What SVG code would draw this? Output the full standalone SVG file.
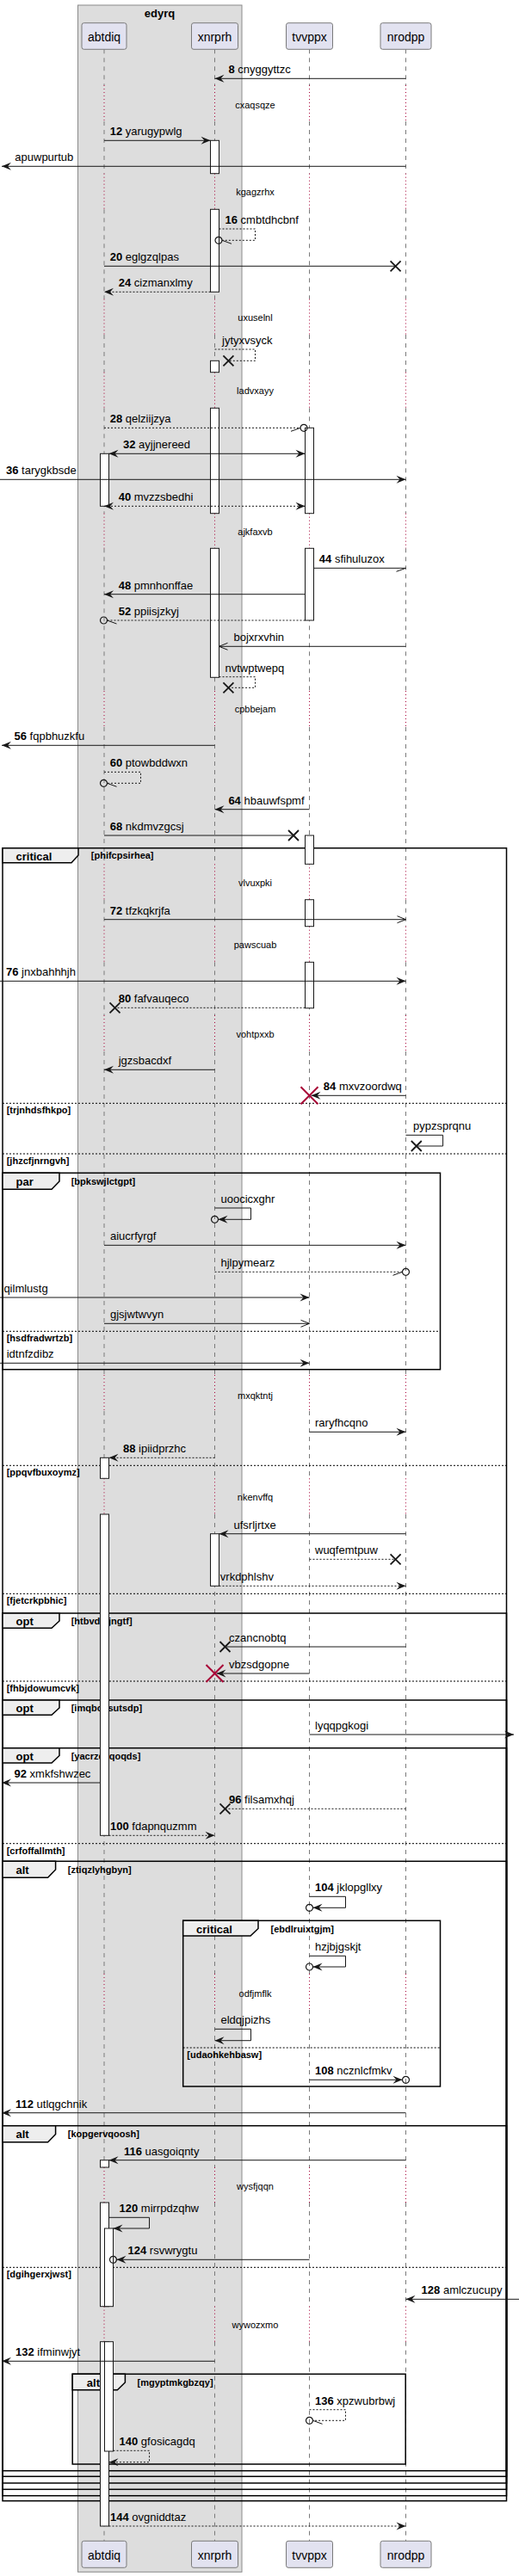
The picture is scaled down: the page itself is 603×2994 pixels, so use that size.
<svg xmlns="http://www.w3.org/2000/svg" width="603" height="2994" viewBox="0 0 603 2994">
<defs>
<style>
text{font-family:"Liberation Sans",Arial,sans-serif;fill:#000}
.m{font-size:13px}
.b{font-weight:bold}
.dl{font-size:11px;text-anchor:middle}
.g{font-size:11px;font-weight:bold}
.tl{font-size:13px;font-weight:bold}
.pl{font-size:14px;text-anchor:middle}
.ln{fill:none;stroke:#181818;stroke-width:1}
.ds{stroke-dasharray:2,2}
.act{fill:#fff;stroke:#181818;stroke-width:1}
.fr{fill:none;stroke:#000;stroke-width:1.5}
.tab{fill:#EEEEEE;stroke:#000;stroke-width:1.5}
.sep{stroke:#000;stroke-width:1;stroke-dasharray:2,2}
.pb{fill:#E2E2F0;stroke:#7a7a7a;stroke-width:1}
.lld{fill:none;stroke:#7a7a7a;stroke-width:1;stroke-dasharray:5,5}
.llr{fill:none;stroke:#A80036;stroke-width:1;stroke-dasharray:1,3}
.cx{stroke:#181818;stroke-width:1.8;fill:none}
.ci{fill:none;stroke:#181818;stroke-width:1.2}
.dx{stroke:#A80036;stroke-width:2;fill:none}
</style>
<marker id="af" viewBox="-12 -6 13 12" refX="0" refY="0" markerWidth="13" markerHeight="12" markerUnits="userSpaceOnUse" orient="auto-start-reverse"><path d="M0,0 L-11,-4.5 L-7,0 L-11,4.5 Z" fill="#181818" stroke="none"/></marker>
<marker id="ao" viewBox="-12 -6 13 12" refX="0" refY="0" markerWidth="13" markerHeight="12" markerUnits="userSpaceOnUse" orient="auto"><path d="M-10,-4 L0,0 L-10,4" fill="none" stroke="#181818" stroke-width="1" stroke-dasharray="none"/></marker>
<marker id="hr" viewBox="-12 -6 13 12" refX="0" refY="0" markerWidth="13" markerHeight="12" markerUnits="userSpaceOnUse" orient="auto"><path d="M-11,4 L0,0" fill="none" stroke="#181818" stroke-width="1" stroke-dasharray="none"/></marker>
<marker id="hl" viewBox="-12 -6 13 12" refX="0" refY="0" markerWidth="13" markerHeight="12" markerUnits="userSpaceOnUse" orient="auto"><path d="M-11,-4 L0,0" fill="none" stroke="#181818" stroke-width="1" stroke-dasharray="none"/></marker>
<path id="lldp" d="M0,57.3V99M0,141V201.7M0,243.3V347.5M0,389V432.7M0,474.3V596.7M0,637.3V803M0,845V1004.3M0,1045.7V1076.7M0,1118.3V1180M0,1222V1598M0,1640V1718.3M0,1760V2294M0,2336V2519M0,2560V2680.7M0,2721.7V2953"/>
<path id="llrp" d="M0,99V141M0,201.7V243.3M0,347.5V389M0,432.7V474.3M0,596.7V637.3M0,803V845M0,1004.3V1045.7M0,1076.7V1118.3M0,1180V1222M0,1598V1640M0,1718.3V1760M0,2294V2336M0,2519V2560M0,2680.7V2721.7"/>
<path id="xx" d="M-6,-6L6,6M-6,6L6,-6"/>
<path id="dxx" d="M-10,-10L10,10M-10,10L10,-10"/>
<circle id="oo" r="4"/>
</defs>
<rect width="603" height="2994" fill="#fff"/>

<g id="edyrq">
<rect x="90.5" y="6" width="190.5" height="2983.3" fill="#DDDDDD" stroke="#8a8a8a" stroke-width="1"/>
<text x="185.5" y="19.5" class="tl" text-anchor="middle">edyrq</text>
</g>

<g id="lifelines">
<use href="#lldp" class="lld" x="121"/><use href="#llrp" class="llr" x="121"/>
<use href="#lldp" class="lld" x="249.5"/><use href="#llrp" class="llr" x="249.5"/>
<use href="#lldp" class="lld" x="359.5"/><use href="#llrp" class="llr" x="359.5"/>
<use href="#lldp" class="lld" x="471.5"/><use href="#llrp" class="llr" x="471.5"/>
</g>

<g id="delays">
<text class="dl" x="296.5" y="125.5">cxaqsqze</text>
<text class="dl" x="296.5" y="227">kgagzrhx</text>
<text class="dl" x="296.5" y="373">uxuselnl</text>
<text class="dl" x="296.5" y="458">ladvxayy</text>
<text class="dl" x="296.5" y="622">ajkfaxvb</text>
<text class="dl" x="296.5" y="828">cpbbejam</text>
<text class="dl" x="296.5" y="1030">vlvuxpki</text>
<text class="dl" x="296.5" y="1102">pawscuab</text>
<text class="dl" x="296.5" y="1205.5">vohtpxxb</text>
<text class="dl" x="296.5" y="1625.5">mxqktntj</text>
<text class="dl" x="296.5" y="1744">nkenvffq</text>
<text class="dl" x="296.5" y="2320.5">odfjmflk</text>
<text class="dl" x="296.5" y="2544.5">wysfjqqn</text>
<text class="dl" x="296.5" y="2706">wywozxmo</text>
</g>

<g id="frames">
<g id="f-critical-1">
<rect class="fr" x="3" y="985.7" width="585.5" height="1921"/>
<polygon class="tab" points="3,985.7 91,985.7 91,994 83,1002.7 3,1002.7"/>
<text class="tl" x="18.5" y="999.5">critical</text>
<text class="g" x="105.8" y="998">[phifcpsirhea]</text>
<line class="sep" x1="3" y1="1282.3" x2="588.5" y2="1282.3"/>
<text class="g" x="7.7" y="1294.3">[trjnhdsfhkpo]</text>
<line class="sep" x1="3" y1="1341" x2="588.5" y2="1341"/>
<text class="g" x="7.7" y="1353">[jhzcfjnrngvh]</text>
<line class="sep" x1="3" y1="1703.3" x2="588.5" y2="1703.3"/>
<text class="g" x="7.7" y="1715.3">[ppqvfbuxoymz]</text>
<line class="sep" x1="3" y1="1852.3" x2="588.5" y2="1852.3"/>
<text class="g" x="7.7" y="1864.3">[fjetcrkpbhic]</text>
</g>
<g id="f-par">
<rect class="fr" x="3" y="1363.3" width="508.5" height="228.4"/>
<polygon class="tab" points="3,1363.3 69,1363.3 69,1373 60,1382.3 3,1382.3"/>
<text class="tl" x="18.5" y="1377.5">par</text>
<text class="g" x="82.7" y="1376.5">[bpkswjlctgpt]</text>
<line class="sep" x1="3" y1="1547.3" x2="511.5" y2="1547.3"/>
<text class="g" x="7.7" y="1559.3">[hsdfradwrtzb]</text>
</g>
<g id="f-opt-1">
<rect class="fr" x="3" y="1875" width="585.5" height="1025.7"/>
<polygon class="tab" points="3,1875 69,1875 69,1884 60,1892.3 3,1892.3"/>
<text class="tl" x="18.5" y="1889">opt</text>
<text class="g" x="82.7" y="1887.5">[htbvdlbjngtf]</text>
<line class="sep" x1="3" y1="1954" x2="588.5" y2="1954"/>
<text class="g" x="7.7" y="1966">[fhbjdowumcvk]</text>
</g>
<g id="f-opt-2">
<rect class="fr" x="3" y="1976" width="585.5" height="917.3"/>
<polygon class="tab" points="3,1976 69,1976 69,1985 60,1993.3 3,1993.3"/>
<text class="tl" x="18.5" y="1990">opt</text>
<text class="g" x="82.7" y="1988.5">[imqbovsutsdp]</text>
</g>
<g id="f-opt-3">
<rect class="fr" x="3" y="2031.7" width="585.5" height="854.3"/>
<polygon class="tab" points="3,2031.7 69,2031.7 69,2040.5 60,2049 3,2049"/>
<text class="tl" x="18.5" y="2045.5">opt</text>
<text class="g" x="82.7" y="2044.5">[yacrzdzqoqds]</text>
<line class="sep" x1="3" y1="2142.7" x2="588.5" y2="2142.7"/>
<text class="g" x="7.7" y="2154.7">[crfoffallmth]</text>
</g>
<g id="f-alt-1">
<rect class="fr" x="3" y="2163.3" width="585.5" height="715"/>
<polygon class="tab" points="3,2163.3 64.6,2163.3 64.6,2173 55.6,2182.3 3,2182.3"/>
<text class="tl" x="18.5" y="2177.5">alt</text>
<text class="g" x="78.8" y="2176.5">[ztiqzlyhgbyn]</text>
</g>
<g id="f-critical-2">
<rect class="fr" x="212.7" y="2232.3" width="298.8" height="192.7"/>
<polygon class="tab" points="212.7,2232.3 300,2232.3 300,2241.5 291,2250 212.7,2250"/>
<text class="tl" x="228" y="2246.5">critical</text>
<text class="g" x="314.6" y="2245.5">[ebdlruixtgjm]</text>
<line class="sep" x1="212.7" y1="2380" x2="511.5" y2="2380"/>
<text class="g" x="217.3" y="2392">[udaohkehbasw]</text>
</g>
<g id="f-alt-2">
<rect class="fr" x="3" y="2470.7" width="585.5" height="401"/>
<polygon class="tab" points="3,2470.7 64.6,2470.7 64.6,2480.5 55.6,2489.7 3,2489.7"/>
<text class="tl" x="18.5" y="2485">alt</text>
<text class="g" x="78.8" y="2483.5">[kopgervqoosh]</text>
<line class="sep" x1="3" y1="2635.3" x2="588.5" y2="2635.3"/>
<text class="g" x="7.7" y="2647.3">[dgihgerxjwst]</text>
</g>
<g id="f-alt-3">
<rect class="fr" x="84.2" y="2759.3" width="387" height="104.7"/>
<polygon class="tab" points="84.2,2759.3 145.4,2759.3 145.4,2769 136.4,2777.7 84.2,2777.7"/>
<text class="tl" x="100.8" y="2773.5">alt</text>
<text class="g" x="159.6" y="2772.5">[mgyptmkgbzqy]</text>
</g>
</g>

<g id="activations">
<rect class="act" x="116.5" y="527.3" width="10" height="61"/>
<rect class="act" x="116.5" y="1694.3" width="10" height="24"/>
<rect class="act" x="116.5" y="1760" width="10" height="373.3"/>
<rect class="act" x="116.5" y="2510.7" width="10" height="8.3"/>
<rect class="act" x="116.5" y="2560" width="10" height="120.7"/>
<rect class="act" x="116.5" y="2721.7" width="10" height="214.3"/>
<rect class="act" x="121.5" y="2590" width="10" height="90.7"/>
<rect class="act" x="121.5" y="2721.7" width="10" height="127.3"/>
<rect class="act" x="244.5" y="163.3" width="10" height="38.4"/>
<rect class="act" x="244.5" y="243.3" width="10" height="96"/>
<rect class="act" x="244.5" y="419.3" width="10" height="13.4"/>
<rect class="act" x="244.5" y="474.3" width="10" height="122.4"/>
<rect class="act" x="244.5" y="637.3" width="10" height="150"/>
<rect class="act" x="244.5" y="1782.7" width="10" height="60.6"/>
<rect class="act" x="354.5" y="497.3" width="10" height="99.4"/>
<rect class="act" x="354.5" y="637.3" width="10" height="83.7"/>
<rect class="act" x="354.5" y="971" width="10" height="33.3"/>
<rect class="act" x="354.5" y="1045.7" width="10" height="31"/>
<rect class="act" x="354.5" y="1118.3" width="10" height="53.4"/>
</g>

<g id="connectors">
<path class="ln" d="M471.5,91.3H249.5" marker-end="url(#af)"/>
<path class="ln" d="M121,163.3H244.5" marker-end="url(#af)"/>
<path class="ln" d="M471.5,193.3H2" marker-end="url(#af)"/>
<path class="ln ds" d="M254.5,266H296.5V279.3H258" marker-end="url(#hl)"/>
<use href="#oo" class="ci" x="254" y="279.3"/>
<path class="ln" d="M121,309.3H459.6"/>
<use href="#xx" class="cx" x="459.6" y="309.3"/>
<path class="ln ds" d="M244.5,339.3H121" marker-end="url(#af)"/>
<path class="ln ds" d="M249.5,406H296.5V419.3H265.4"/>
<use href="#xx" class="cx" x="265.4" y="419.3"/>
<path class="ln ds" d="M121,497.3H349" marker-end="url(#hr)"/>
<use href="#oo" class="ci" x="353" y="497.3"/>
<path class="ln" d="M126.5,527.3H354.5" marker-start="url(#af)" marker-end="url(#af)"/>
<path class="ln" d="M0,557.3H471.5" marker-end="url(#af)"/>
<path class="ln ds" d="M121,588.3H354.5" marker-start="url(#af)" marker-end="url(#af)"/>
<path class="ln" d="M364.5,660.3H471.5" marker-end="url(#hr)"/>
<path class="ln" d="M354.5,690.7H121" marker-end="url(#af)"/>
<path class="ln ds" d="M354.5,721H124.5" marker-end="url(#hl)"/>
<use href="#oo" class="ci" x="120.5" y="721"/>
<path class="ln" d="M471.5,751.3H254.5" marker-end="url(#ao)"/>
<path class="ln ds" d="M254.5,786.7H296.5V799.3H265.4"/>
<use href="#xx" class="cx" x="265.4" y="799.3"/>
<path class="ln" d="M249.5,866.3H2" marker-end="url(#af)"/>
<path class="ln ds" d="M121,897.3H163.5V910.3H124.5" marker-end="url(#hl)"/>
<use href="#oo" class="ci" x="120.5" y="910.3"/>
<path class="ln" d="M359.5,940.7H249.5" marker-end="url(#af)"/>
<path class="ln" d="M121,971H341"/>
<use href="#xx" class="cx" x="341" y="971"/>
<path class="ln" d="M121,1068.7H471.5" marker-end="url(#ao)"/>
<path class="ln" d="M0,1140.3H471.5" marker-end="url(#af)"/>
<path class="ln ds" d="M354.5,1171.3H133.5"/>
<use href="#xx" class="cx" x="133.5" y="1171.3"/>
<path class="ln" d="M249.5,1243.3H121" marker-end="url(#af)"/>
<path class="ln" d="M471.5,1273.3H361.5" marker-end="url(#af)"/>
<use href="#dxx" class="dx" x="359.5" y="1273.3"/>
<path class="ln" d="M471.5,1319.3H514.6V1332H483.8"/>
<use href="#xx" class="cx" x="483.8" y="1332"/>
<path class="ln" d="M249.5,1404H291.5V1417.3H253.5" marker-end="url(#af)"/>
<use href="#oo" class="ci" x="249.5" y="1417.3"/>
<path class="ln" d="M121,1447.3H471.5" marker-end="url(#af)"/>
<path class="ln ds" d="M249.5,1478.3H467.5" marker-end="url(#hr)"/>
<use href="#oo" class="ci" x="471.5" y="1478.3"/>
<path class="ln" d="M0,1508H359.5" marker-end="url(#af)"/>
<path class="ln" d="M121,1538.3H359.5" marker-end="url(#ao)"/>
<path class="ln" d="M0,1584.3H359.5" marker-end="url(#af)"/>
<path class="ln" d="M359.5,1664.3H471.5" marker-end="url(#af)"/>
<path class="ln ds" d="M249.5,1694.3H126.5" marker-end="url(#af)"/>
<path class="ln" d="M471.5,1782.7H254.5" marker-end="url(#af)"/>
<path class="ln ds" d="M359.5,1812.3H459.6"/>
<use href="#xx" class="cx" x="459.6" y="1812.3"/>
<path class="ln ds" d="M254.5,1843.3H471.5" marker-end="url(#af)"/>
<path class="ln" d="M471.5,1914H261.5"/>
<use href="#xx" class="cx" x="261.5" y="1914"/>
<path class="ln" d="M359.5,1945H251.5" marker-end="url(#af)"/>
<use href="#dxx" class="dx" x="249.5" y="1945"/>
<path class="ln" d="M359.5,2016H597" marker-end="url(#af)"/>
<path class="ln" d="M116.5,2072H2" marker-end="url(#af)"/>
<path class="ln ds" d="M471.5,2102.3H261.5"/>
<use href="#xx" class="cx" x="261.5" y="2102.3"/>
<path class="ln ds" d="M126.5,2133.3H249.5" marker-end="url(#af)"/>
<path class="ln" d="M359.5,2204.3H401.5V2217.3H363.5" marker-end="url(#af)"/>
<use href="#oo" class="ci" x="359.5" y="2217.3"/>
<path class="ln" d="M359.5,2273.3H401.5V2286H363.5" marker-end="url(#af)"/>
<use href="#oo" class="ci" x="359.5" y="2286"/>
<path class="ln" d="M249.5,2358.3H291.5V2371.7H249.5" marker-end="url(#af)"/>
<path class="ln" d="M359.5,2417.3H467.5" marker-end="url(#af)"/>
<use href="#oo" class="ci" x="471.5" y="2417.3"/>
<path class="ln" d="M471.5,2455.7H2" marker-end="url(#af)"/>
<path class="ln" d="M471.5,2510.7H126.5" marker-end="url(#af)"/>
<path class="ln" d="M126.5,2577.3H173.5V2590H131.5" marker-end="url(#af)"/>
<path class="ln" d="M359.5,2626.3H135.5" marker-end="url(#af)"/>
<use href="#oo" class="ci" x="131.5" y="2626.3"/>
<path class="ln" d="M603,2672.3H471.5" marker-end="url(#af)"/>
<path class="ln" d="M249.5,2744.3H2" marker-end="url(#af)"/>
<path class="ln ds" d="M359.5,2800.7H401.5V2813.3H363.5" marker-end="url(#hl)"/>
<use href="#oo" class="ci" x="359.5" y="2813.3"/>
<path class="ln ds" d="M131.5,2848.3H173.5V2861.7H126.5" marker-end="url(#af)"/>
<path class="ln ds" d="M126.5,2936H471.5" marker-end="url(#af)"/>
</g>

<g id="message-labels" class="m">
<text class="m" x="265.4" y="85.3"><tspan class="b">8</tspan> cnyggyttzc</text>
<text class="m" x="127.7" y="157.3"><tspan class="b">12</tspan> yarugypwlg</text>
<text class="m" x="17.3" y="187.3">apuwpurtub</text>
<text class="m" x="261.5" y="260"><tspan class="b">16</tspan> cmbtdhcbnf</text>
<text class="m" x="127.7" y="303.3"><tspan class="b">20</tspan> eglgzqlpas</text>
<text class="m" x="137.7" y="333.3"><tspan class="b">24</tspan> cizmanxlmy</text>
<text class="m" x="258" y="400">jytyxvsyck</text>
<text class="m" x="127.7" y="491.3"><tspan class="b">28</tspan> qelziijzya</text>
<text class="m" x="143" y="521.3"><tspan class="b">32</tspan> ayjjnereed</text>
<text class="m" x="7" y="551.3"><tspan class="b">36</tspan> tarygkbsde</text>
<text class="m" x="137.7" y="582.3"><tspan class="b">40</tspan> mvzzsbedhi</text>
<text class="m" x="370.8" y="654.3"><tspan class="b">44</tspan> sfihuluzox</text>
<text class="m" x="137.7" y="684.7"><tspan class="b">48</tspan> pmnhonffae</text>
<text class="m" x="137.7" y="715"><tspan class="b">52</tspan> ppiisjzkyj</text>
<text class="m" x="271.5" y="745.3">bojxrxvhin</text>
<text class="m" x="261.5" y="780.7">nvtwptwepq</text>
<text class="m" x="16.5" y="860.3"><tspan class="b">56</tspan> fqpbhuzkfu</text>
<text class="m" x="127.7" y="891.3"><tspan class="b">60</tspan> ptowbddwxn</text>
<text class="m" x="265.4" y="934.7"><tspan class="b">64</tspan> hbauwfspmf</text>
<text class="m" x="127.7" y="965"><tspan class="b">68</tspan> nkdmvzgcsj</text>
<text class="m" x="127.7" y="1062.7"><tspan class="b">72</tspan> tfzkqkrjfa</text>
<text class="m" x="7" y="1134.3"><tspan class="b">76</tspan> jnxbahhhjh</text>
<text class="m" x="137.7" y="1165.3"><tspan class="b">80</tspan> fafvauqeco</text>
<text class="m" x="137.7" y="1237.3">jgzsbacdxf</text>
<text class="m" x="375.8" y="1267.3"><tspan class="b">84</tspan> mxvzoordwq</text>
<text class="m" x="480" y="1313.3">pypzsprqnu</text>
<text class="m" x="256.5" y="1398">uoocicxghr</text>
<text class="m" x="128" y="1441.3">aiucrfyrgf</text>
<text class="m" x="256.5" y="1472.3">hjlpymearz</text>
<text class="m" x="1.5" y="1502">iqilmlustg</text>
<text class="m" x="128" y="1532.3">gjsjwtwvyn</text>
<text class="m" x="7.7" y="1578.3">idtnfzdibz</text>
<text class="m" x="366" y="1658.3">raryfhcqno</text>
<text class="m" x="143" y="1688.3"><tspan class="b">88</tspan> ipiidprzhc</text>
<text class="m" x="271.5" y="1776.7">ufsrljrtxe</text>
<text class="m" x="366" y="1806.3">wuqfemtpuw</text>
<text class="m" x="255.8" y="1837.3">vrkdphlshv</text>
<text class="m" x="266" y="1908">czancnobtq</text>
<text class="m" x="266" y="1939">vbzsdgopne</text>
<text class="m" x="366" y="2010">lyqqpgkogi</text>
<text class="m" x="16.5" y="2066"><tspan class="b">92</tspan> xmkfshwzec</text>
<text class="m" x="266" y="2096.3"><tspan class="b">96</tspan> filsamxhqj</text>
<text class="m" x="128" y="2127.3"><tspan class="b">100</tspan> fdapnquzmm</text>
<text class="m" x="366" y="2198.3"><tspan class="b">104</tspan> jklopgllxy</text>
<text class="m" x="366" y="2267.3">hzjbjgskjt</text>
<text class="m" x="256.5" y="2352.3">eldqjpizhs</text>
<text class="m" x="366" y="2411.3"><tspan class="b">108</tspan> ncznlcfmkv</text>
<text class="m" x="18" y="2449.7"><tspan class="b">112</tspan> utlqgchnik</text>
<text class="m" x="144" y="2504.7"><tspan class="b">116</tspan> uasgoiqnty</text>
<text class="m" x="138.5" y="2571.3"><tspan class="b">120</tspan> mirrpdzqhw</text>
<text class="m" x="148.5" y="2620.3"><tspan class="b">124</tspan> rsvwrygtu</text>
<text class="m" x="489.6" y="2666.3"><tspan class="b">128</tspan> amlczucupy</text>
<text class="m" x="18" y="2738.3"><tspan class="b">132</tspan> ifminwjyt</text>
<text class="m" x="366" y="2794.7"><tspan class="b">136</tspan> xpzwubrbwj</text>
<text class="m" x="138.5" y="2842.3"><tspan class="b">140</tspan> gfosicagdq</text>
<text class="m" x="128" y="2930"><tspan class="b">144</tspan> ovgniddtaz</text>
</g>

<g id="p-abtdiq">
<rect class="pb" x="95" y="26.7" width="52" height="30.6" rx="2.5"/>
<text class="pl" x="121" y="47.5">abtdiq</text>
<rect class="pb" x="95" y="2953.3" width="52" height="31" rx="2.5"/>
<text class="pl" x="121" y="2974.5">abtdiq</text>
</g>
<g id="p-xnrprh">
<rect class="pb" x="222.5" y="26.7" width="54" height="30.6" rx="2.5"/>
<text class="pl" x="249.5" y="47.5">xnrprh</text>
<rect class="pb" x="222.5" y="2953.3" width="54" height="31" rx="2.5"/>
<text class="pl" x="249.5" y="2974.5">xnrprh</text>
</g>
<g id="p-tvvppx">
<rect class="pb" x="332.5" y="26.7" width="54" height="30.6" rx="2.5"/>
<text class="pl" x="359.5" y="47.5">tvvppx</text>
<rect class="pb" x="332.5" y="2953.3" width="54" height="31" rx="2.5"/>
<text class="pl" x="359.5" y="2974.5">tvvppx</text>
</g>
<g id="p-nrodpp">
<rect class="pb" x="442" y="26.7" width="59" height="30.6" rx="2.5"/>
<text class="pl" x="471.5" y="47.5">nrodpp</text>
<rect class="pb" x="442" y="2953.3" width="59" height="31" rx="2.5"/>
<text class="pl" x="471.5" y="2974.5">nrodpp</text>
</g>
</svg>
